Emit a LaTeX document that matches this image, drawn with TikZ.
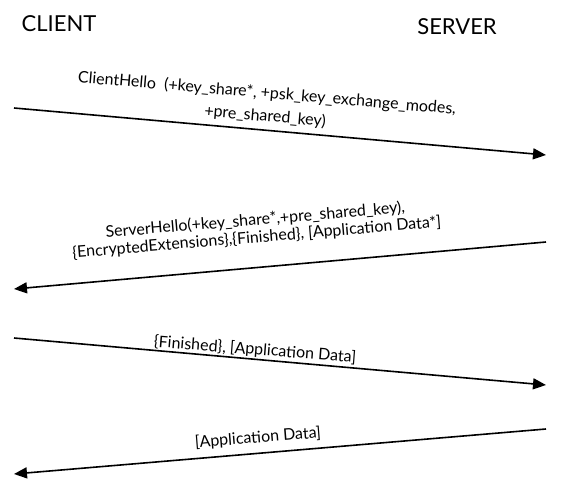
\documentclass[tikz,border=0pt]{standalone}
\usepackage{fontspec}
\setmainfont{Lato}
\usetikzlibrary{arrows.meta}
\tikzset{
  msg/.style={line width=1.6pt, -{Triangle[length=13pt,width=11pt]}},
  party/.style={inner sep=0pt, font=\fontsize{22}{26}\selectfont},
  lbl/.style={inner sep=0pt, align=center, font=\fontsize{16}{19}\selectfont},
}
\begin{document}
\begin{tikzpicture}[x=1pt,y=-1pt]
\useasboundingbox (0,0) rectangle (568,489);
\node[party] (client) at (59,24) {CLIENT};
\node[party] (server) at (457,27) {SERVER};
\coordinate (c1) at (14,108);  \coordinate (s1) at (546,155);
\coordinate (s2) at (546,242); \coordinate (c2) at (14,289);
\coordinate (c3) at (14,338);  \coordinate (s3) at (546,385);
\coordinate (s4) at (546,429); \coordinate (c4) at (14,474);
\draw[msg] (c1) -- (s1);
\draw[msg] (s2) -- (c2);
\draw[msg] (c3) -- (s3);
\draw[msg] (s4) -- (c4);
\node[lbl, rotate=-4.8, font=\fontsize{16}{23}\selectfont] (l1) at (266,105) {ClientHello\ \ (+key\_share*, +psk\_key\_exchange\_modes,\\+pre\_shared\_key)};
\node[lbl, rotate=4.8, font=\fontsize{16}{17.5}\selectfont] (l2) at (256,229) {ServerHello(+key\_share*,+pre\_shared\_key),\\\{EncryptedExtensions\},\{Finished\}, [Application Data*]};
\node[lbl, rotate=-4.5] (l3) at (255,350) {\{Finished\}, [Application Data]};
\node[lbl, rotate=4.6] (l4) at (258,438) {[Application Data]};
\end{tikzpicture}
\end{document}
